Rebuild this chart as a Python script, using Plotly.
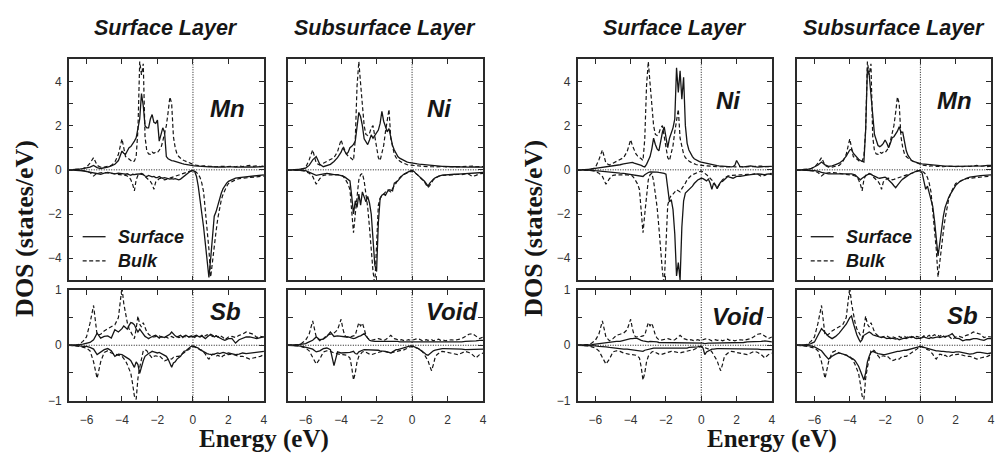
import plotly.graph_objects as go

# ---------------- data (energy grid in eV, DOS in states/eV) ----------------
energy = [-7.0, -6.8, -6.6, -6.4, -6.2, -6.0, -5.8, -5.6, -5.4, -5.2, -5.0, -4.8, -4.6, -4.4, -4.2,
          -4.0, -3.9, -3.8, -3.7, -3.6, -3.5, -3.4, -3.3, -3.2, -3.1,
          -3.0, -2.9, -2.8, -2.7, -2.6, -2.5, -2.4, -2.3, -2.2, -2.1,
          -2.0, -1.9, -1.8, -1.7, -1.6, -1.5, -1.4, -1.3, -1.2, -1.1,
          -1.0, -0.9, -0.8, -0.7, -0.6, -0.5, -0.4, -0.3, -0.2, -0.1,
          0.0, 0.1, 0.2, 0.3, 0.4, 0.5, 0.6, 0.7, 0.8, 0.9,
          1.0, 1.1, 1.2, 1.3, 1.4, 1.5, 1.6, 1.7, 1.8, 1.9, 2.0,
          2.2, 2.4, 2.6, 2.8, 3.0, 3.2, 3.4, 3.6, 3.8, 4.0]

# Bulk reference curves (dashed)
mn_bulk_up = [0, 0, 0.01, 0.03, 0.06, 0.12, 0.3, 0.55, 0.2, 0.12, 0.12, 0.15, 0.2, 0.35, 0.7,
              1.4, 0.9, 0.6, 0.55, 0.5, 0.42, 0.35, 0.4, 0.6, 1.8,
              4.9, 4.3, 4.8, 1.5, 0.85, 0.72, 0.7, 0.8, 0.75, 0.8,
              0.78, 0.9, 1.0, 1.3, 1.6, 2.0, 2.6, 3.3, 3.0, 1.5,
              1.0, 0.72, 0.6, 0.52, 0.46, 0.42, 0.38, 0.34, 0.3, 0.27,
              0.25, 0.22, 0.2, 0.19, 0.18, 0.17, 0.18, 0.16, 0.17, 0.16,
              0.15, 0.16, 0.15, 0.14, 0.15, 0.16, 0.14, 0.15, 0.16, 0.14, 0.15,
              0.16, 0.14, 0.17, 0.15, 0.18, 0.2, 0.16, 0.18, 0.15, 0.17]
mn_bulk_dn = [0, 0, -0.01, -0.02, -0.04, -0.06, -0.12, -0.28, -0.15, -0.12, -0.12, -0.14, -0.16, -0.18, -0.2,
              -0.2, -0.22, -0.25, -0.28, -0.33, -0.45, -0.65, -0.95, -0.45, -0.25,
              -0.18, -0.16, -0.2, -0.3, -0.38, -0.45, -0.52, -0.65, -0.88, -0.55,
              -0.45, -0.4, -0.38, -0.4, -0.45, -0.43, -0.4, -0.38, -0.36, -0.33,
              -0.3, -0.27, -0.24, -0.21, -0.19, -0.16, -0.13, -0.1, -0.07, -0.05,
              -0.04, -0.06, -0.12, -0.2, -0.35, -0.6, -1.0, -1.8, -2.6, -3.6,
              -4.85, -4.1, -3.4, -2.8, -2.2, -1.7, -1.35, -1.1, -0.9, -0.75, -0.62,
              -0.52, -0.45, -0.4, -0.38, -0.35, -0.33, -0.32, -0.3, -0.3, -0.28]
ni_bulk_up = [0, 0, 0.01, 0.02, 0.04, 0.1, 0.45, 0.9, 0.3, 0.22, 0.3, 0.38, 0.46, 0.55, 0.82,
              1.36, 1.1, 0.86, 0.72, 0.62, 0.57, 0.5, 0.42, 1.4, 3.8,
              4.9, 3.9, 2.9, 2.0, 1.6, 1.55, 1.65, 1.9, 2.0, 1.5,
              0.86, 0.55, 0.42, 0.7, 1.1, 1.72, 2.3, 2.74, 1.43, 1.0,
              0.71, 0.55, 0.45, 0.4, 0.35, 0.3, 0.27, 0.24, 0.22, 0.21,
              0.2, 0.19, 0.18, 0.17, 0.16, 0.16, 0.15, 0.16, 0.15, 0.14,
              0.14, 0.15, 0.14, 0.13, 0.14, 0.15, 0.13, 0.14, 0.15, 0.13, 0.14,
              0.15, 0.13, 0.14, 0.16, 0.14, 0.15, 0.17, 0.14, 0.16, 0.15]
ni_bulk_dn = [0, 0, -0.01, -0.02, -0.04, -0.07, -0.15, -0.3, -0.65, -0.4, -0.25, -0.22, -0.23, -0.22, -0.23,
              -0.24, -0.28, -0.38, -0.5, -0.65, -0.9, -1.8, -2.85, -2.0, -1.1,
              -0.45, -0.22, -0.16, -0.5, -1.0, -1.7, -2.6, -3.8, -4.6, -5.2,
              -3.5, -1.6, -1.3, -1.15, -1.1, -1.0, -0.9, -0.95, -1.0, -0.85,
              -0.74, -0.6, -0.45, -0.35, -0.28, -0.22, -0.18, -0.15, -0.12, -0.08,
              -0.05, -0.1, -0.15, -0.22, -0.3, -0.38, -0.45, -0.55, -0.68, -0.8,
              -0.7, -0.55, -0.45, -0.38, -0.32, -0.28, -0.26, -0.25, -0.24, -0.23, -0.23,
              -0.23, -0.22, -0.2, -0.22, -0.18, -0.2, -0.3, -0.25, -0.18, -0.16]
sb_bulk_up = [0, 0, 0, 0.02, 0.07, 0.15, 0.4, 0.72, 0.18, 0.2, 0.26, 0.3, 0.34, 0.37, 0.5,
              1.05, 0.76, 0.55, 0.41, 0.3, 0.23, 0.16, 0.12, 0.3, 0.53,
              0.38, 0.33, 0.41, 0.32, 0.24, 0.2, 0.17, 0.15, 0.15, 0.16,
              0.16, 0.17, 0.15, 0.14, 0.16, 0.15, 0.13, 0.15, 0.16, 0.14,
              0.15, 0.16, 0.14, 0.15, 0.13, 0.16, 0.15, 0.14, 0.16, 0.15,
              0.16, 0.14, 0.17, 0.15, 0.16, 0.18, 0.15, 0.17, 0.19, 0.17,
              0.18, 0.16, 0.19, 0.17, 0.15, 0.18, 0.16, 0.14, 0.1, 0.12, 0.15,
              0.16, 0.14, 0.18, 0.2, 0.24, 0.22, 0.2, 0.14, 0.16, 0.15]
sb_bulk_dn = [0, 0, -0.01, -0.02, -0.03, -0.05, -0.1, -0.3, -0.6, -0.3, -0.13, -0.1, -0.14, -0.16, -0.17,
              -0.2, -0.24, -0.28, -0.35, -0.42, -0.51, -0.7, -0.92, -0.98, -0.6,
              -0.4, -0.25, -0.1, -0.08, -0.1, -0.15, -0.2, -0.23, -0.2, -0.19,
              -0.2, -0.19, -0.22, -0.25, -0.28, -0.27, -0.25, -0.24, -0.25, -0.22,
              -0.22, -0.2, -0.2, -0.18, -0.16, -0.14, -0.12, -0.1, -0.07, -0.04,
              -0.02, -0.03, -0.05, -0.06, -0.08, -0.09, -0.12, -0.16, -0.22, -0.25,
              -0.2, -0.16, -0.17, -0.2, -0.18, -0.2, -0.22, -0.19, -0.17, -0.16, -0.17,
              -0.16, -0.18, -0.2, -0.2, -0.22, -0.25, -0.23, -0.22, -0.2, -0.17]
void_bulk_up = [0, 0, 0, 0.01, 0.04, 0.09, 0.2, 0.44, 0.15, 0.08, 0.12, 0.18, 0.2, 0.22, 0.28,
                0.47, 0.3, 0.18, 0.15, 0.15, 0.15, 0.16, 0.17, 0.18, 0.3,
                0.41, 0.35, 0.4, 0.3, 0.18, 0.13, 0.1, 0.09, 0.1, 0.11,
                0.12, 0.12, 0.11, 0.1, 0.09, 0.1, 0.12, 0.15, 0.18, 0.14,
                0.12, 0.11, 0.1, 0.09, 0.1, 0.09, 0.08, 0.09, 0.1, 0.09,
                0.09, 0.1, 0.11, 0.12, 0.11, 0.09, 0.08, 0.09, 0.1, 0.09,
                0.09, 0.1, 0.08, 0.09, 0.1, 0.11, 0.09, 0.1, 0.09, 0.08, 0.09,
                0.1, 0.09, 0.11, 0.12, 0.16, 0.2, 0.21, 0.17, 0.12, 0.15]
void_bulk_dn = [0, 0, 0, -0.01, -0.03, -0.05, -0.1, -0.23, -0.34, -0.25, -0.12, -0.1, -0.11, -0.14, -0.16,
                -0.17, -0.17, -0.17, -0.18, -0.2, -0.23, -0.4, -0.63, -0.5, -0.3,
                -0.2, -0.15, -0.12, -0.11, -0.13, -0.15, -0.16, -0.17, -0.16, -0.14,
                -0.14, -0.13, -0.12, -0.11, -0.11, -0.12, -0.13, -0.14, -0.14, -0.13,
                -0.12, -0.11, -0.11, -0.1, -0.09, -0.09, -0.08, -0.06, -0.04, -0.03,
                -0.02, -0.03, -0.04, -0.05, -0.06, -0.08, -0.12, -0.17, -0.23, -0.28,
                -0.38, -0.46, -0.35, -0.22, -0.17, -0.14, -0.12, -0.11, -0.11, -0.12, -0.13,
                -0.14, -0.15, -0.17, -0.14, -0.11, -0.13, -0.17, -0.23, -0.17, -0.14]

# Surface-slab curves (solid)
mn_surf1_up = [0, 0, 0.01, 0.03, 0.05, 0.08, 0.12, 0.2, 0.1, 0.06, 0.08, 0.12, 0.18, 0.25, 0.42,
               0.85, 0.75, 0.7, 0.85, 1.0, 1.05, 1.15, 1.3, 1.45, 1.8,
               2.3, 3.45, 2.9, 2.0, 1.9, 1.9, 2.3, 2.5, 2.15, 2.1,
               2.25, 1.3, 1.6, 1.9, 1.7, 0.6, 0.5, 0.45, 0.42, 0.4,
               0.37, 0.35, 0.32, 0.3, 0.28, 0.26, 0.24, 0.22, 0.21, 0.2,
               0.19, 0.18, 0.17, 0.16, 0.16, 0.15, 0.14, 0.15, 0.14, 0.13,
               0.14, 0.13, 0.14, 0.13, 0.12, 0.13, 0.12, 0.13, 0.12, 0.13, 0.12,
               0.13, 0.12, 0.13, 0.14, 0.13, 0.13, 0.12, 0.14, 0.13, 0.15]
mn_surf1_dn = [0, 0, -0.01, -0.03, -0.05, -0.08, -0.12, -0.15, -0.18, -0.2, -0.15, -0.12, -0.15, -0.18, -0.15,
               -0.15, -0.18, -0.2, -0.18, -0.22, -0.25, -0.2, -0.22, -0.2, -0.18,
               -0.18, -0.2, -0.22, -0.28, -0.3, -0.25, -0.3, -0.32, -0.3, -0.35,
               -0.35, -0.3, -0.35, -0.38, -0.35, -0.38, -0.4, -0.42, -0.4, -0.42,
               -0.4, -0.43, -0.45, -0.42, -0.35, -0.3, -0.23, -0.15, -0.1, -0.05,
               -0.03, -0.08, -0.3, -0.75, -1.3, -1.9, -2.6, -3.35, -4.1, -4.87,
               -4.0, -3.2, -2.1, -1.9, -1.6, -1.3, -1.05, -0.85, -0.7, -0.6, -0.52,
               -0.45, -0.38, -0.35, -0.33, -0.3, -0.3, -0.28, -0.27, -0.25, -0.23]
ni_surf2_up = [0, 0, 0.01, 0.02, 0.04, 0.08, 0.2, 0.45, 0.6, 0.25, 0.14, 0.18, 0.25, 0.38, 0.55,
               0.8, 1.0, 0.85, 0.71, 0.8, 1.0, 1.07, 1.15, 1.3, 2.1,
               2.6, 2.4, 2.0, 1.4, 1.25, 1.14, 1.35, 1.58, 1.43, 1.55,
               1.65, 1.8, 2.1, 2.65, 2.2, 1.95, 1.72, 1.87, 1.5, 1.1,
               0.9, 0.71, 0.6, 0.53, 0.48, 0.43, 0.4, 0.36, 0.34, 0.32,
               0.3, 0.29, 0.28, 0.27, 0.26, 0.25, 0.24, 0.23, 0.22, 0.21,
               0.2, 0.2, 0.19, 0.18, 0.18, 0.17, 0.17, 0.16, 0.16, 0.15, 0.15,
               0.14, 0.14, 0.13, 0.13, 0.13, 0.12, 0.13, 0.12, 0.12, 0.12]
ni_surf2_dn = [0, 0, -0.01, -0.01, -0.02, -0.04, -0.1, -0.18, -0.25, -0.22, -0.2, -0.16, -0.18, -0.22, -0.22,
               -0.24, -0.28, -0.32, -0.38, -0.42, -0.5, -1.2, -2.0, -1.4, -1.7,
               -1.1, -1.6, -1.0, -1.2, -1.45, -1.2, -1.5, -2.0, -3.0, -4.3,
               -4.6, -2.4, -1.3, -1.15, -1.1, -1.15, -1.0, -0.9, -0.92, -0.95,
               -0.6, -0.55, -0.5, -0.4, -0.3, -0.22, -0.17, -0.12, -0.08, -0.05,
               -0.03, -0.07, -0.15, -0.22, -0.3, -0.38, -0.45, -0.52, -0.62, -0.74,
               -0.6, -0.5, -0.42, -0.36, -0.32, -0.28, -0.26, -0.24, -0.23, -0.22, -0.22,
               -0.21, -0.2, -0.19, -0.18, -0.17, -0.16, -0.15, -0.14, -0.13, -0.12]
ni_surf3_up = [0, 0, 0.01, 0.02, 0.04, 0.06, 0.08, 0.1, 0.12, 0.15, 0.18, 0.2, 0.23, 0.27, 0.3,
               0.35, 0.34, 0.3, 0.28, 0.25, 0.22, 0.2, 0.16, 0.13, 0.25,
               0.42, 0.6, 0.95, 1.43, 1.15, 0.95, 0.86, 1.29, 1.7, 1.94,
               1.4, 1.0, 1.43, 1.65, 1.9, 2.3, 4.62, 3.5, 4.48, 3.2,
               4.19, 2.0, 1.2, 0.9, 0.72, 0.6, 0.5, 0.45, 0.4, 0.37,
               0.35, 0.33, 0.3, 0.28, 0.26, 0.24, 0.22, 0.2, 0.2, 0.19,
               0.18, 0.17, 0.16, 0.15, 0.14, 0.13, 0.14, 0.13, 0.15, 0.2, 0.42,
               0.14, 0.13, 0.15, 0.18, 0.15, 0.12, 0.14, 0.15, 0.14, 0.16]
ni_surf3_dn = [0, 0, -0.01, -0.01, -0.02, -0.04, -0.06, -0.08, -0.1, -0.12, -0.13, -0.14, -0.15, -0.16, -0.18,
               -0.2, -0.21, -0.22, -0.23, -0.24, -0.26, -0.28, -0.3, -0.22, -0.16,
               -0.12, -0.09, -0.09, -0.08, -0.09, -0.1, -0.12, -0.13, -0.14, -0.16,
               -0.2, -0.8, -1.45, -1.35, -1.8, -2.9, -4.8, -4.2, -5.0, -2.6,
               -1.4, -1.05, -0.98, -0.9, -0.82, -0.74, -0.62, -0.52, -0.46, -0.42,
               -0.38, -0.4, -0.45, -0.5, -0.42, -0.6, -0.88, -0.6, -0.7, -0.85,
               -0.68, -0.55, -0.52, -0.45, -0.35, -0.3, -0.33, -0.36, -0.38, -0.34, -0.3,
               -0.3, -0.26, -0.24, -0.22, -0.2, -0.18, -0.2, -0.22, -0.18, -0.22]
mn_surf4_up = [0, 0, 0.01, 0.02, 0.05, 0.13, 0.22, 0.35, 0.22, 0.16, 0.18, 0.24, 0.3, 0.42, 0.62,
               0.9, 0.93, 0.75, 0.65, 0.55, 0.48, 0.42, 0.38, 0.35, 1.8,
               4.6, 4.3, 3.3, 2.2, 1.6, 1.35, 1.1, 1.05, 1.1, 1.2,
               1.35, 1.2, 1.0, 1.2, 1.45, 1.5, 1.6, 1.75, 1.95, 1.7,
               1.7, 1.2, 0.86, 0.65, 0.5, 0.42, 0.38, 0.35, 0.32, 0.3,
               0.28, 0.27, 0.26, 0.25, 0.24, 0.23, 0.22, 0.21, 0.2, 0.2,
               0.19, 0.18, 0.18, 0.17, 0.17, 0.17, 0.16, 0.17, 0.16, 0.16, 0.16,
               0.16, 0.17, 0.16, 0.17, 0.18, 0.18, 0.19, 0.18, 0.2, 0.2]
mn_surf4_dn = [0, 0, -0.01, -0.02, -0.03, -0.04, -0.06, -0.12, -0.16, -0.18, -0.18, -0.18, -0.18, -0.16, -0.15,
               -0.16, -0.18, -0.2, -0.23, -0.3, -0.38, -0.45, -0.38, -0.32, -0.28,
               -0.22, -0.19, -0.19, -0.25, -0.3, -0.33, -0.36, -0.38, -0.36, -0.34,
               -0.33, -0.38, -0.45, -0.52, -0.62, -0.72, -0.81, -0.7, -0.58, -0.5,
               -0.42, -0.35, -0.3, -0.25, -0.2, -0.16, -0.12, -0.08, -0.05, -0.04,
               -0.03, -0.15, -0.45, -0.88, -0.74, -1.05, -1.3, -1.65, -2.3, -3.3,
               -3.9, -3.3, -2.6, -2.1, -1.7, -1.45, -1.25, -1.1, -0.95, -0.82, -0.7,
               -0.55, -0.45, -0.38, -0.33, -0.3, -0.28, -0.26, -0.25, -0.24, -0.23]
sb_surf5_up = [0, 0, 0, 0.01, 0.02, 0.03, 0.05, 0.1, 0.22, 0.13, 0.16, 0.17, 0.13, 0.28, 0.24,
               0.3, 0.35, 0.32, 0.29, 0.36, 0.41, 0.4, 0.37, 0.3, 0.24,
               0.29, 0.25, 0.19, 0.16, 0.14, 0.12, 0.14, 0.16, 0.17, 0.18,
               0.15, 0.13, 0.16, 0.15, 0.14, 0.16, 0.18, 0.2, 0.24, 0.2,
               0.17, 0.15, 0.16, 0.18, 0.15, 0.17, 0.18, 0.16, 0.15, 0.17,
               0.15, 0.17, 0.18, 0.16, 0.15, 0.17, 0.14, 0.12, 0.15, 0.17,
               0.2, 0.18, 0.15, 0.17, 0.15, 0.13, 0.11, 0.1, 0.09, 0.11, 0.12,
               0.12, 0.04, 0.1, 0.12, 0.15, 0.15, 0.13, 0.12, 0.14, 0.15]
sb_surf5_dn = [0, 0, 0, -0.01, -0.02, -0.02, -0.04, -0.07, -0.17, -0.13, -0.08, -0.06, -0.1, -0.2, -0.16,
               -0.17, -0.19, -0.2, -0.22, -0.25, -0.28, -0.34, -0.4, -0.3, -0.35,
               -0.51, -0.38, -0.28, -0.2, -0.17, -0.15, -0.13, -0.11, -0.12, -0.13,
               -0.14, -0.13, -0.15, -0.17, -0.19, -0.2, -0.25, -0.32, -0.4, -0.32,
               -0.3, -0.25, -0.22, -0.2, -0.15, -0.11, -0.1, -0.07, -0.04, -0.02,
               -0.01, -0.02, -0.04, -0.05, -0.08, -0.1, -0.12, -0.14, -0.15, -0.16,
               -0.17, -0.17, -0.16, -0.15, -0.14, -0.15, -0.14, -0.13, -0.14, -0.15, -0.14,
               -0.15, -0.17, -0.16, -0.14, -0.15, -0.14, -0.13, -0.12, -0.12, -0.11]
void_surf6_up = [0, 0, 0, 0.01, 0.02, 0.03, 0.06, 0.09, 0.15, 0.1, 0.11, 0.16, 0.24, 0.16, 0.17,
                 0.16, 0.15, 0.15, 0.15, 0.15, 0.14, 0.13, 0.12, 0.13, 0.15,
                 0.16, 0.17, 0.19, 0.21, 0.17, 0.12, 0.09, 0.08, 0.07, 0.07,
                 0.07, 0.07, 0.08, 0.07, 0.07, 0.08, 0.07, 0.07, 0.07, 0.07,
                 0.07, 0.07, 0.07, 0.06, 0.06, 0.06, 0.06, 0.06, 0.06, 0.06,
                 0.06, 0.06, 0.06, 0.06, 0.06, 0.06, 0.06, 0.06, 0.06, 0.06,
                 0.05, 0.05, 0.05, 0.05, 0.05, 0.05, 0.05, 0.05, 0.05, 0.05, 0.05,
                 0.05, 0.05, 0.06, 0.06, 0.07, 0.07, 0.08, 0.08, 0.09, 0.09]
void_surf6_dn = [0, 0, 0, -0.01, -0.02, -0.03, -0.05, -0.07, -0.12, -0.1, -0.06, -0.05, -0.08, -0.37, -0.12,
                 -0.14, -0.14, -0.14, -0.14, -0.14, -0.13, -0.12, -0.11, -0.15, -0.16,
                 -0.12, -0.1, -0.09, -0.08, -0.08, -0.08, -0.08, -0.08, -0.08, -0.08,
                 -0.09, -0.09, -0.1, -0.1, -0.11, -0.11, -0.12, -0.13, -0.14, -0.12,
                 -0.1, -0.08, -0.08, -0.07, -0.05, -0.04, -0.04, -0.03, -0.02, -0.01,
                 -0.01, -0.02, -0.03, -0.05, -0.07, -0.1, -0.12, -0.14, -0.17, -0.18,
                 -0.15, -0.12, -0.1, -0.09, -0.08, -0.07, -0.07, -0.06, -0.06, -0.06, -0.06,
                 -0.06, -0.06, -0.07, -0.07, -0.08, -0.08, -0.08, -0.07, -0.07, -0.07]
void_surf7_up = [0, 0, 0, 0.01, 0.01, 0.02, 0.03, 0.04, 0.05, 0.06, 0.06, 0.07, 0.07, 0.09, 0.1,
                 0.12, 0.12, 0.13, 0.13, 0.12, 0.1, 0.09, 0.08, 0.07, 0.07,
                 0.06, 0.07, 0.07, 0.07, 0.06, 0.06, 0.05, 0.05, 0.05, 0.05,
                 0.05, 0.05, 0.05, 0.05, 0.05, 0.05, 0.05, 0.05, 0.05, 0.05,
                 0.05, 0.05, 0.05, 0.05, 0.05, 0.05, 0.05, 0.04, 0.04, 0.04,
                 0.04, 0.04, 0.03, 0.04, 0.04, 0.04, 0.04, 0.04, 0.04, 0.04,
                 0.04, 0.04, 0.04, 0.04, 0.05, 0.05, 0.05, 0.05, 0.05, 0.05, 0.05,
                 0.05, 0.05, 0.06, 0.06, 0.07, 0.07, 0.07, 0.08, 0.07, 0.06]
void_surf7_dn = [0, 0, 0, -0.01, -0.01, -0.01, -0.02, -0.02, -0.03, -0.04, -0.05, -0.05, -0.06, -0.07, -0.07,
                 -0.08, -0.08, -0.09, -0.09, -0.1, -0.1, -0.11, -0.11, -0.09, -0.08,
                 -0.08, -0.07, -0.06, -0.05, -0.05, -0.05, -0.06, -0.06, -0.06, -0.06,
                 -0.06, -0.06, -0.06, -0.06, -0.06, -0.06, -0.05, -0.05, -0.05, -0.05,
                 -0.05, -0.05, -0.05, -0.04, -0.04, -0.04, -0.04, -0.03, -0.03, -0.02,
                 -0.02, -0.05, -0.17, -0.12, -0.1, -0.08, -0.07, -0.07, -0.06, -0.06,
                 -0.06, -0.06, -0.06, -0.06, -0.06, -0.06, -0.06, -0.06, -0.06, -0.06, -0.06,
                 -0.06, -0.06, -0.07, -0.07, -0.07, -0.07, -0.08, -0.08, -0.07, -0.08]
sb_surf8_up = [0, 0, 0, 0.01, 0.03, 0.06, 0.18, 0.3, 0.23, 0.16, 0.12, 0.16, 0.22, 0.29, 0.38,
               0.5, 0.53, 0.4, 0.28, 0.19, 0.12, 0.06, 0.1, 0.18, 0.2,
               0.22, 0.24, 0.22, 0.19, 0.18, 0.17, 0.16, 0.15, 0.14, 0.15,
               0.14, 0.12, 0.13, 0.12, 0.13, 0.12, 0.11, 0.12, 0.1, 0.11,
               0.12, 0.13, 0.12, 0.14, 0.15, 0.14, 0.15, 0.13, 0.12, 0.13,
               0.12, 0.14, 0.15, 0.14, 0.13, 0.12, 0.14, 0.13, 0.14, 0.15,
               0.15, 0.14, 0.15, 0.16, 0.15, 0.16, 0.17, 0.19, 0.21, 0.17, 0.13,
               0.12, 0.08, 0.1, 0.1, 0.12, 0.12, 0.1, 0.09, 0.12, 0.12]
sb_surf8_dn = [0, 0, 0, -0.01, -0.01, -0.03, -0.06, -0.1, -0.18, -0.25, -0.2, -0.16, -0.14, -0.16, -0.18,
               -0.22, -0.23, -0.25, -0.28, -0.32, -0.38, -0.46, -0.55, -0.63, -0.5,
               -0.3, -0.2, -0.13, -0.11, -0.13, -0.14, -0.15, -0.16, -0.17, -0.17,
               -0.17, -0.16, -0.15, -0.14, -0.13, -0.12, -0.12, -0.11, -0.11, -0.1,
               -0.1, -0.09, -0.09, -0.08, -0.08, -0.07, -0.06, -0.05, -0.04, -0.03,
               -0.02, -0.03, -0.04, -0.05, -0.06, -0.07, -0.08, -0.08, -0.09, -0.1,
               -0.1, -0.11, -0.11, -0.11, -0.12, -0.12, -0.12, -0.13, -0.13, -0.13, -0.12,
               -0.12, -0.13, -0.15, -0.16, -0.15, -0.13, -0.13, -0.14, -0.15, -0.14]

x_tickvals = [-6, -4, -2, 0, 2, 4]
x_ticktext = ["\u22126", "\u22124", "\u22122", "0", "2", "4"]
top_tickvals = [-4, -3, -2, -1, 0, 1, 2, 3, 4]
top_ticktext = ["\u22124", "", "\u22122", "", "0", "", "2", "", "4"]
bot_tickvals = [-1, -0.5, 0, 0.5, 1]
bot_ticktext = ["\u22121", "", "0", "", "1"]

# ---------------- layout geometry (pixels in a 998x455 page) ----------------
W, H = 998, 455


def fx(p):
    return p / W


def fy(p):
    return 1 - p / H


cols = [(69, 265), (289, 485), (580, 775), (800, 995)]
rows = {"top": (54, 282), "bot": (292, 406)}

panels = [
    (0, "top", mn_surf1_up, mn_surf1_dn, mn_bulk_up, mn_bulk_dn, "Mn", (228, 105)),
    (1, "top", ni_surf2_up, ni_surf2_dn, ni_bulk_up, ni_bulk_dn, "Ni", (441, 105)),
    (2, "top", ni_surf3_up, ni_surf3_dn, ni_bulk_up, ni_bulk_dn, "Ni", (731, 96)),
    (3, "top", mn_surf4_up, mn_surf4_dn, mn_bulk_up, mn_bulk_dn, "Mn", (958, 96)),
    (0, "bot", sb_surf5_up, sb_surf5_dn, sb_bulk_up, sb_bulk_dn, "Sb", (226, 314)),
    (1, "bot", void_surf6_up, void_surf6_dn, void_bulk_up, void_bulk_dn, "Void", (454, 314)),
    (2, "bot", void_surf7_up, void_surf7_dn, void_bulk_up, void_bulk_dn, "Void", (741, 319)),
    (3, "bot", sb_surf8_up, sb_surf8_dn, sb_bulk_up, sb_bulk_dn, "Sb", (966, 318)),
]

for p in panels:
    for arr in p[2:6]:
        assert len(arr) == len(energy), (p[6], len(arr))

INK = "#161616"
AX = "#2a2a2a"
sans = "Liberation Sans, Arial, sans-serif"
tick_font = dict(family=sans, size=12, color="#333")
solid = dict(color=INK, width=1.3)
dashed = dict(color=INK, width=1.2, dash="4px,2.5px")
dotted = dict(color=INK, width=1, dash="1px,1.5px")

fig = go.Figure()
layout = {}
shapes = []
annotations = []

for i, (c, r, su, sd, bu, bd, lab, (lx, ly)) in enumerate(panels, start=1):
    xa, ya = ("x" if i == 1 else f"x{i}"), ("y" if i == 1 else f"y{i}")
    for ys, ln in ((bu, dashed), (bd, dashed), (su, solid), (sd, solid)):
        fig.add_trace(go.Scatter(x=energy, y=ys, mode="lines", line=ln,
                                 xaxis=xa, yaxis=ya, showlegend=False, hoverinfo="skip"))
    x0, x1 = cols[c]
    y0, y1 = rows[r]
    top = r == "top"
    layout[f"xaxis{i}"] = dict(
        domain=[fx(x0), fx(x1)], anchor=ya, range=[-7, 4],
        tickvals=x_tickvals, ticktext=x_ticktext, showticklabels=not top,
        ticks="inside", ticklen=5, tickwidth=1, tickcolor=AX,
        showline=True, linecolor=AX, linewidth=1.5, mirror="allticks",
        showgrid=False, zeroline=False, tickfont=tick_font, fixedrange=True,
        ticklabelstandoff=7)
    layout[f"yaxis{i}"] = dict(
        domain=[fy(y1), fy(y0)], anchor=xa,
        range=[-5, 5] if top else [-1, 1],
        tickvals=top_tickvals if top else bot_tickvals,
        ticktext=top_ticktext if top else bot_ticktext,
        showticklabels=(c in (0, 2)),
        ticks="inside", ticklen=5, tickwidth=1, tickcolor=AX,
        showline=True, linecolor=AX, linewidth=1.5, mirror="allticks",
        showgrid=False, zeroline=False, tickfont=tick_font, fixedrange=True,
        ticklabelstandoff=3)
    # Fermi level and zero lines (dotted)
    shapes.append(dict(type="line", xref=xa, yref=f"{ya} domain", x0=0, x1=0, y0=0, y1=1,
                       line=dotted, layer="below"))
    shapes.append(dict(type="line", xref=f"{xa} domain", yref=ya, x0=0, x1=1, y0=0, y1=0,
                       line=dotted, layer="below"))
    annotations.append(dict(text=f"<b><i>{lab}</i></b>", x=fx(lx), y=fy(ly), xref="paper", yref="paper",
                            xanchor="center", yanchor="middle", showarrow=False,
                            font=dict(family=sans, size=24, color=INK)))

# column titles
titles = ["Surface Layer", "Subsurface Layer", "Surface Layer", "Subsurface Layer"]
for (x0, x1), t in zip(cols, titles):
    annotations.append(dict(text=f"<b><i>{t}</i></b>", x=fx((x0 + x1) / 2), y=fy(22),
                            xref="paper", yref="paper", xanchor="center", yanchor="middle",
                            showarrow=False, font=dict(family=sans, size=21.5, color=INK)))

# axis titles
for xc in (25, 536):
    annotations.append(dict(text="<b>DOS (states/eV)</b>", x=fx(xc), y=fy(228), xref="paper", yref="paper",
                            xanchor="center", yanchor="middle", textangle=-90, showarrow=False,
                            font=dict(family="Liberation Serif, Times New Roman, serif", size=26, color=INK)))
for xc in (265, 775):
    annotations.append(dict(text="<b>Energy (eV)</b>", x=fx(xc), y=fy(446), xref="paper", yref="paper",
                            xanchor="center", yanchor="middle", showarrow=False,
                            font=dict(family="Liberation Serif, Times New Roman, serif", size=25, color=INK)))

# in-panel keys (Surface = solid, Bulk = dashed)
for lx0 in (83, 814):
    shapes.append(dict(type="line", xref="paper", yref="paper", x0=fx(lx0), x1=fx(lx0 + 23),
                       y0=fy(237), y1=fy(237), line=solid))
    shapes.append(dict(type="line", xref="paper", yref="paper", x0=fx(lx0), x1=fx(lx0 + 23),
                       y0=fy(262), y1=fy(262), line=dashed))
    for txt, yy in (("Surface", 237), ("Bulk", 262)):
        annotations.append(dict(text=f"<b><i>{txt}</i></b>", x=fx(lx0 + 33), y=fy(yy), xref="paper",
                                yref="paper", xanchor="left", yanchor="middle", showarrow=False,
                                font=dict(family=sans, size=18, color=INK)))

fig.update_layout(**layout)
fig.update_layout(width=W, height=H, margin=dict(l=0, r=0, t=0, b=0),
                  paper_bgcolor="white", plot_bgcolor="white",
                  shapes=shapes, annotations=annotations, showlegend=False)

fig.write_html("out.html", config={"displayModeBar": False},
               post_script="document.body.style.margin='0';")
